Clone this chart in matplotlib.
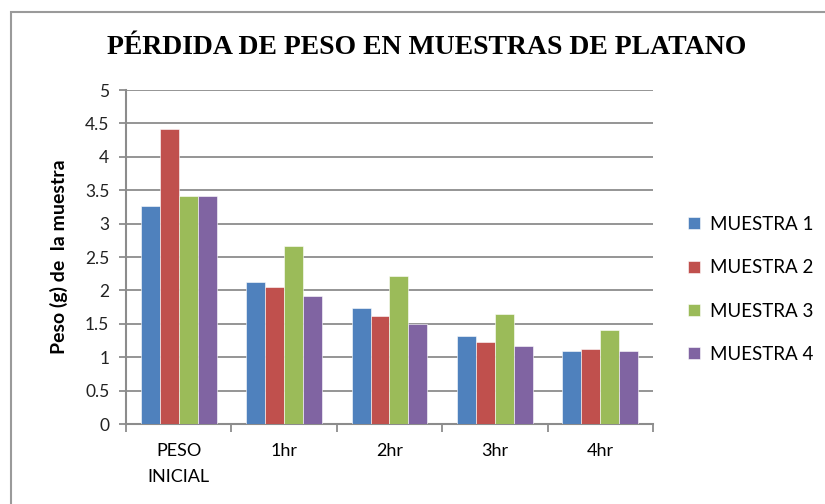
import numpy as np
import matplotlib.pyplot as plt
from matplotlib.patches import Rectangle

# peso (g) de cada muestra a lo largo del secado
categorias = ["PESO\nINICIAL", "1hr", "2hr", "3hr", "4hr"]
muestra_1 = [3.27, 2.13, 1.73, 1.32, 1.09]
muestra_2 = [4.42, 2.05, 1.62, 1.23, 1.12]
muestra_3 = [3.41, 2.66, 2.21, 1.65, 1.40]
muestra_4 = [3.41, 1.91, 1.49, 1.17, 1.09]
series = ["MUESTRA 1", "MUESTRA 2", "MUESTRA 3", "MUESTRA 4"]
colores = ["#4F81BD", "#C0504D", "#9BBB59", "#8064A2"]


def main():
    fig = plt.figure(figsize=(8.25, 5.04), dpi=100)
    ax = fig.add_axes([0.1527, 0.1587, 0.6388, 0.6627])

    # marco exterior del gráfico
    fig.patches.append(Rectangle((11 / 825, -0.1), 1.2, 1 - 12 / 504 + 0.1,
                                 transform=fig.transFigure, fill=False,
                                 edgecolor="#9a9a9a", linewidth=1.5))

    x = np.arange(len(categorias)) + 0.5
    ancho = 0.18
    datos = [muestra_1, muestra_2, muestra_3, muestra_4]
    for i, (vals, nombre, c) in enumerate(zip(datos, series, colores)):
        ax.bar(x + (i - 1.5) * ancho, vals, ancho, color=c, label=nombre,
               edgecolor="#ffffff", linewidth=0.4, zorder=3)

    ax.set_xlim(0, len(categorias))
    ax.set_ylim(0, 5)
    ax.set_yticks(np.arange(0, 5.01, 0.5))
    ax.set_yticklabels(["0", "0.5", "1", "1.5", "2", "2.5", "3", "3.5", "4", "4.5", "5"])
    ax.yaxis.grid(True, color="#8c8c8c", linewidth=1.3, zorder=0)

    ax.set_xticks(np.arange(0, len(categorias) + 1))
    ax.set_xticklabels([])
    ax.set_xticks(x, minor=True)
    ax.set_xticklabels(categorias, minor=True, fontsize=13, family="Lato",
                       linespacing=1.75, va="top")
    ax.tick_params(axis="x", which="major", length=6, width=1.3, color="#8c8c8c")
    ax.tick_params(axis="x", which="minor", length=0, pad=14)
    ax.tick_params(axis="y", length=5, width=1.3, color="#8c8c8c", pad=7,
                   labelsize=12.5, labelcolor="#222222")
    for lbl in ax.get_yticklabels():
        lbl.set_family("Lato")

    for lado in ["top", "right"]:
        ax.spines[lado].set_visible(False)
    for lado in ["left", "bottom"]:
        ax.spines[lado].set_color("#8c8c8c")
        ax.spines[lado].set_linewidth(1.5)

    ax.set_ylabel("Peso (g) de  la muestra", fontsize=14, fontweight="bold",
                  family="Lato", labelpad=12)

    fig.text(427 / 825, 1 - 47 / 504, "PÉRDIDA DE PESO EN MUESTRAS DE PLATANO",
             ha="center", va="center", fontsize=20, fontweight="bold",
             family="Liberation Serif")

    ax.legend(loc="center left", bbox_to_anchor=(1.035, 0.403), frameon=False,
              prop={"family": "Lato", "size": 13.5}, handlelength=0.6,
              handleheight=0.6, handletextpad=0.55, labelspacing=1.4)

    fig.savefig("out.png", dpi=100)


if __name__ == '__main__':
    main()
